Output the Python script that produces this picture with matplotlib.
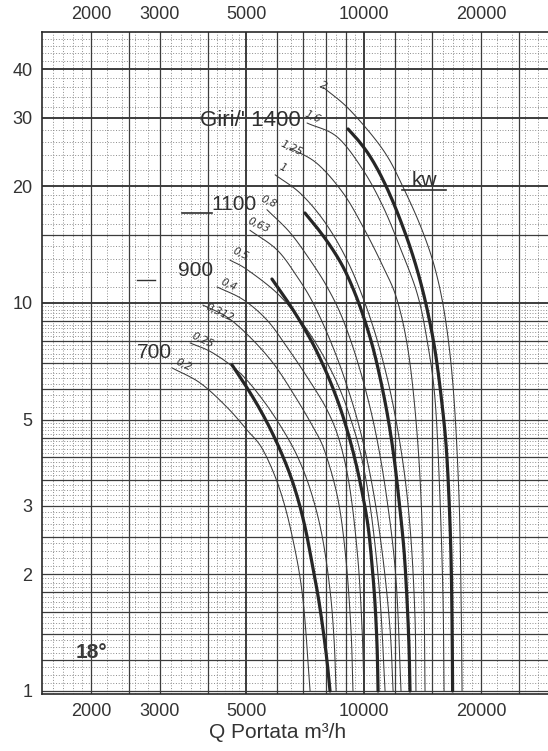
import numpy as np
import matplotlib
matplotlib.use("Agg")
import matplotlib.pyplot as plt
from matplotlib.lines import Line2D

# ---------------- data ----------------
x_ticks = [2000, 3000, 5000, 10000, 20000]
y_ticks = [1, 2, 3, 5, 10, 20, 30, 40]

# thick curves: fan speed (rpm)
speed_labels = ["700", "900", "1100", "1400"]
q_700 = [4600, 4970, 5360, 5750, 6140, 6510, 6830, 7120, 7370, 7640, 7870, 8060, 8200]
p_700 = [6.92, 6.15, 5.43, 4.76, 4.13, 3.56, 3.05, 2.57, 2.14, 1.76, 1.44, 1.19, 1.0]
q_900 = [5820, 6320, 6870, 7460, 8060, 8600, 9070, 9510, 9910, 10270, 10510, 10700, 10830, 10890]
p_900 = [11.53, 10.24, 8.98, 7.75, 6.56, 5.56, 4.71, 3.94, 3.26, 2.65, 2.11, 1.67, 1.29, 1.0]
q_1100 = [7070, 7640, 8250, 8860, 9450, 10020, 10570, 11080, 11550, 11960, 12320, 12690, 12920, 13070, 13150]
p_1100 = [17.06, 15.51, 13.94, 12.38, 10.74, 9.15, 7.66, 6.26, 5.05, 4.01, 3.11, 2.31, 1.72, 1.31, 1.0]
q_1400 = [9120, 9670, 10330, 11020, 11750, 12470, 13230, 13950, 14620, 15240, 15790, 16270, 16560, 16760,
          16860, 16910]
p_1400 = [28.09, 26.31, 24.07, 21.50, 18.76, 16.18, 13.70, 11.46, 9.42, 7.56, 5.79, 4.31, 3.11, 2.18,
          1.48, 1.0]

# thin curves: motor power (kW)
power_labels = ["0,2", "0,25", "0,312", "0,4", "0,5", "0,63", "0,8", "1", "1,25", "1,6", "2"]
q_p02 = [3230, 3810, 4460, 5020, 5520, 6100, 6590, 6990, 7290]
p_p02 = [6.80, 6.22, 5.39, 4.71, 4.18, 3.30, 2.45, 1.72, 1.0]
q_p025 = [3590, 4110, 4820, 5520, 6210, 6790, 7330, 7820, 8200, 8400, 8500]
p_p025 = [7.89, 7.43, 6.60, 5.62, 4.71, 3.99, 3.26, 2.52, 1.82, 1.35, 1.0]
q_p0312 = [3870, 4460, 5110, 5860, 6590, 7420, 7960, 8600, 9010, 9280, 9390]
p_p0312 = [9.88, 9.20, 8.17, 7.00, 5.86, 4.79, 4.13, 3.11, 2.18, 1.44, 1.0]
q_p04 = [4210, 4910, 5650, 6360, 7160, 8060, 8700, 9230, 9670, 9910, 10020]
p_p04 = [11.0, 10.2, 9.04, 7.70, 6.45, 5.30, 4.36, 3.30, 2.18, 1.44, 1.0]
q_p05 = [4540, 5020, 6000, 6870, 7730, 8550, 9230, 9910, 10510, 11020, 11350]
p_p05 = [12.9, 12.2, 10.6, 9.04, 7.56, 6.22, 5.08, 3.94, 2.76, 1.72, 1.0]
q_p063 = [5110, 6000, 6750, 7420, 8200, 8960, 9790, 10570, 11220, 11690, 11900]
p_p063 = [15.4, 13.7, 11.7, 10.0, 8.03, 6.33, 4.71, 3.30, 2.18, 1.44, 1.0]
q_p08 = [5650, 6470, 7290, 8060, 8860, 9790, 10700, 11480, 12110, 12470]
p_p08 = [17.4, 15.2, 12.9, 11.0, 9.04, 6.72, 4.71, 3.11, 1.93, 1.0]
q_p1 = [5930, 6870, 7870, 8860, 9790, 10830, 11830, 12690, 13230, 13550, 13620]
p_p1 = [21.4, 19.2, 16.4, 13.5, 10.8, 8.03, 5.62, 3.71, 2.45, 1.52, 1.0]
q_p125 = [6470, 7590, 8860, 9970, 11220, 12180, 13000, 13620, 14040, 14280, 14370]
p_p125 = [25.1, 22.9, 19.2, 15.7, 12.4, 10.2, 7.56, 4.99, 3.11, 1.72, 1.0]
q_p16 = [7160, 8550, 9970, 11220, 12400, 13710, 14540, 15250, 15700, 15980, 16080]
p_p16 = [29.1, 26.8, 22.0, 17.7, 13.9, 10.6, 8.03, 5.62, 3.11, 1.72, 1.0]
q_p2 = [7870, 9230, 11220, 12620, 14200, 15430, 16360, 17060, 17570, 17780, 17880]
p_p2 = [36.0, 31.4, 24.8, 19.9, 15.2, 11.7, 8.52, 5.62, 3.11, 1.72, 1.0]

# ---------------- figure ----------------
W, H = 548, 751
fig = plt.figure(figsize=(W / 100, H / 100), dpi=100)
plt.rcParams['font.family'] = ['Liberation Sans', 'DejaVu Sans']

def fx(px):
    return px / W

def fy(py):
    return 1 - py / H

ax = fig.add_axes([fx(42.3), fy(694.4), (549.7 - 42.3) / W, (694.4 - 31.8) / H])
ax.set_xscale('log')
ax.set_yscale('log')
ax.set_xlim(1500, 30000)
ax.set_ylim(0.98, 50)

# ---------- graph-paper grid ----------
dot = (0, (1.0, 1.8))
gcol = '#8c8c8c'
mcol = '#3c3c3c'
v_solid = [2000, 2500, 3000, 4000, 5000, 6000, 7000, 8000, 9000, 10000, 12000, 15000, 20000, 25000]
v_dot = ([1600, 1700, 1800, 1900] + list(range(2200, 3000, 200)) + [3200, 3400, 3600, 3800, 4200, 4400, 4600, 4800]
         + [5500, 6500, 7500, 8500, 9500, 11000, 13000, 14000, 16000, 17000, 18000, 19000, 22000, 24000, 26000, 28000])
h_solid = [1, 1.2, 1.4, 1.6, 1.8, 2, 2.5, 3, 3.5, 4, 4.5, 5, 6, 7, 8, 9, 10, 15, 20, 30, 40]
h_dot = (list(np.round(np.arange(1.05, 2.0, 0.05), 3)) + list(np.round(np.arange(2.1, 5.0, 0.1), 2))
         + list(np.round(np.arange(5.2, 10.0, 0.2), 2)) + list(np.arange(11, 20, 1)) + list(np.arange(22, 50, 2)))
for v in v_dot:
    ax.axvline(v, color=gcol, lw=0.7, ls=dot, zorder=1)
for h in h_dot:
    if h not in h_solid:
        ax.axhline(h, color=gcol, lw=0.7, ls=dot, zorder=1)
for v in v_solid:
    ax.axvline(v, color=mcol, lw=0.9 if v not in (5000, 10000) else 1.4, zorder=1.5)
for h in h_solid:
    ax.axhline(h, color=mcol, lw=0.9 if h not in (10, 20, 30, 40) else 1.4, zorder=1.5)

# ---------- curves ----------
def smooth(q, p, n=12):
    lx = np.log10(np.asarray(q, float))
    ly = np.log10(np.asarray(p, float))
    P = np.column_stack([lx, ly])
    P = np.vstack([2 * P[0] - P[1], P, 2 * P[-1] - P[-2]])
    out = []
    for i in range(1, len(P) - 2):
        p0, p1, p2, p3 = P[i - 1], P[i], P[i + 1], P[i + 2]
        for t in np.linspace(0, 1, n, endpoint=False):
            t2, t3 = t * t, t * t * t
            pt = 0.5 * ((2 * p1) + (-p0 + p2) * t + (2 * p0 - 5 * p1 + 4 * p2 - p3) * t2
                        + (-p0 + 3 * p1 - 3 * p2 + p3) * t3)
            out.append(pt)
    out.append(P[-2])
    out = np.array(out)
    return 10 ** out[:, 0], 10 ** out[:, 1]

thin = [(q_p02, p_p02), (q_p025, p_p025), (q_p0312, p_p0312), (q_p04, p_p04), (q_p05, p_p05),
        (q_p063, p_p063), (q_p08, p_p08), (q_p1, p_p1), (q_p125, p_p125), (q_p16, p_p16), (q_p2, p_p2)]
for q, p in thin:
    xs, ys = smooth(q, p)
    ax.plot(xs, ys, color='#3a3a3a', lw=0.75, zorder=3, solid_capstyle='round')

thick = [(q_700, p_700), (q_900, p_900), (q_1100, p_1100), (q_1400, p_1400)]
for q, p in thick:
    xs, ys = smooth(q, p)
    ax.plot(xs, ys, color='#262626', lw=2.3, zorder=4, solid_capstyle='round')

# ---------- axes styling ----------
for s in ['left', 'top', 'bottom']:
    ax.spines[s].set_color('#2a2a2a')
    ax.spines[s].set_linewidth(1.2)
ax.spines['right'].set_visible(False)
ax.set_xticks(x_ticks)
ax.set_xticklabels([str(v) for v in x_ticks])
ax.set_yticks(y_ticks)
ax.set_yticklabels([str(v) for v in y_ticks])
ax.xaxis.set_minor_locator(matplotlib.ticker.NullLocator())
ax.yaxis.set_minor_locator(matplotlib.ticker.NullLocator())
ax.tick_params(axis='both', length=0, labelsize=13, labelcolor='#333333')
ax.tick_params(axis='x', top=True, labeltop=True, pad=6)
ax.tick_params(axis='y', pad=7)
fig.text(fx(278), fy(733), 'Q Portata m³/h', fontsize=15, color='#333333', ha='center', va='center')

# ---------- annotations ----------
tcol = '#303030'
fig.text(fx(250), fy(121), "Giri/' 1400", fontsize=16, color=tcol, ha='center', va='center')
fig.text(fx(234), fy(204), speed_labels[2], fontsize=15, color=tcol, ha='center', va='center')
fig.text(fx(196), fy(271), speed_labels[1], fontsize=15, color=tcol, ha='center', va='center')
fig.text(fx(154), fy(353), speed_labels[0], fontsize=15, color=tcol, ha='center', va='center')
fig.text(fx(424), fy(181), 'kw', fontsize=15, color=tcol, ha='center', va='center')
fig.add_artist(Line2D([fx(402), fx(446)], [fy(190), fy(190)], color=tcol, lw=1.2))
fig.add_artist(Line2D([fx(182), fx(212)], [fy(213), fy(213)], color=tcol, lw=1.2))
fig.add_artist(Line2D([fx(137), fx(155)], [fy(280), fy(280)], color=tcol, lw=1.0))
fig.text(fx(91), fy(653), '18°', fontsize=15, fontweight='bold', color='#3a3a3a', ha='center', va='center')

plab_pos = [(184, 365), (203, 340), (220, 313), (229, 285), (241, 254), (259, 225), (269, 202),
            (283, 168), (292, 148), (313, 117), (323, 86)]
for lab, (px, py) in zip(power_labels, plab_pos):
    fig.text(fx(px), fy(py), lab, fontsize=7.5, style='italic', color=tcol, ha='center', va='center',
             rotation=-25, family=['DejaVu Sans'])

fig.savefig('out.png', dpi=100)
